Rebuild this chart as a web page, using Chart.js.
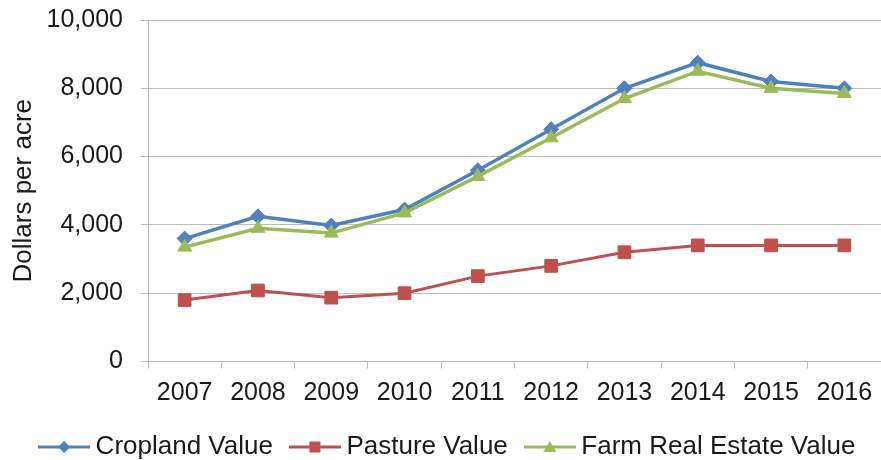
<!DOCTYPE html>
<html>
<head>
<meta charset="utf-8">
<script src="https://cdn.jsdelivr.net/npm/chart.js@4/dist/chart.umd.min.js"></script>
<style>
  html, body { margin: 0; padding: 0; background: #ffffff; }
  #wrap { width: 881px; height: 460px; position: relative; }
</style>
</head>
<body>
<div id="wrap"><canvas id="chart" width="881" height="460"></canvas></div>
<script>
// Land values, dollars per acre
const years = ['2007', '2008', '2009', '2010', '2011', '2012', '2013', '2014', '2015', '2016'];
const croplandValue = [3600, 4250, 3980, 4450, 5600, 6800, 8000, 8750, 8200, 8000];
const pastureValue = [1800, 2080, 1870, 2000, 2500, 2800, 3200, 3400, 3400, 3400];
const farmRealEstateValue = [3350, 3900, 3760, 4350, 5420, 6550, 7700, 8500, 8000, 7850];
const yTicks = [0, 2000, 4000, 6000, 8000, 10000];

const BLUE = '#4F81BD';
const RED = '#C0504D';
const GREEN = '#9BBB59';
const FONT = "'Liberation Sans', Arial, sans-serif";
const TEXT = '#1a1a1a';
const GRID = '#bcbcbc';

// Legend swatch: a short line with the series marker in the middle
function swatch(color, shape) {
  const c = document.createElement('canvas');
  c.width = 52; c.height = 18;
  const g = c.getContext('2d');
  g.strokeStyle = color; g.fillStyle = color; g.lineWidth = 3;
  g.beginPath(); g.moveTo(0, 9); g.lineTo(52, 9); g.stroke();
  g.beginPath();
  if (shape === 'diamond') {
    g.moveTo(26, 3); g.lineTo(32, 9); g.lineTo(26, 15); g.lineTo(20, 9);
  } else if (shape === 'square') {
    g.rect(20.5, 3.5, 11, 11);
  } else {
    g.moveTo(26, 3); g.lineTo(32.5, 14); g.lineTo(19.5, 14);
  }
  g.closePath(); g.fill();
  return c;
}
const swatches = [swatch(BLUE, 'diamond'), swatch(RED, 'square'), swatch(GREEN, 'triangle')];

// Moves the legend row slightly right of the canvas centre
const legendOffset = {
  id: 'legendOffset',
  afterLayout(chart) {
    const l = chart.legend;
    if (l) { l.left += 10; l.right += 10; }
  }
};

new Chart(document.getElementById('chart'), {
  type: 'line',
  plugins: [legendOffset],
  data: {
    labels: years,
    datasets: [
      {
        label: 'Cropland Value', data: croplandValue, order: 3, clip: false,
        borderColor: BLUE, backgroundColor: BLUE, borderWidth: 3.5,
        pointStyle: 'rectRot', pointRadius: 7.5, pointBorderWidth: 1,
        pointBackgroundColor: BLUE, pointBorderColor: BLUE
      },
      {
        label: 'Pasture Value', data: pastureValue, order: 2, clip: false,
        borderColor: RED, backgroundColor: RED, borderWidth: 3,
        pointStyle: 'rect', pointRadius: 9, pointBorderWidth: 1,
        pointBackgroundColor: RED, pointBorderColor: RED
      },
      {
        label: 'Farm Real Estate Value', data: farmRealEstateValue, order: 1, clip: false,
        borderColor: GREEN, backgroundColor: GREEN, borderWidth: 3.5,
        pointStyle: 'triangle', pointRadius: 8, pointBorderWidth: 1,
        pointBackgroundColor: GREEN, pointBorderColor: GREEN
      }
    ]
  },
  options: {
    responsive: false,
    animation: false,
    events: [],
    layout: { autoPadding: false, padding: { top: 20, right: 0, bottom: -10, left: 0 } },
    plugins: {
      tooltip: { enabled: false },
      legend: {
        position: 'bottom',
        labels: {
          usePointStyle: true,
          pointStyleWidth: 37,
          padding: 23.5,
          color: TEXT,
          font: { family: FONT, size: 26 },
          sort: (a, b) => a.datasetIndex - b.datasetIndex,
          generateLabels(chart) {
            const items = Chart.defaults.plugins.legend.labels.generateLabels(chart);
            items.forEach(it => { it.pointStyle = swatches[it.datasetIndex]; });
            return items;
          }
        }
      }
    },
    scales: {
      x: {
        offset: true,
        grid: { offset: true, drawOnChartArea: false, drawTicks: true, tickLength: 7, color: GRID },
        border: { color: GRID, width: 1 },
        ticks: { color: TEXT, font: { family: FONT, size: 25 }, padding: 10, maxRotation: 0, autoSkip: false },
        afterFit(scale) {
          scale.height = 49;
          scale.paddingLeft = 0; scale.paddingRight = 0;
        }
      },
      y: {
        min: 0, max: 10000,
        afterBuildTicks(scale) { scale.ticks = yTicks.map(v => ({ value: v })); },
        grid: { color: GRID, drawTicks: true, tickLength: 7 },
        border: { color: GRID, width: 1 },
        ticks: {
          color: TEXT, font: { family: FONT, size: 25 }, padding: 18,
          callback: v => Number(v).toLocaleString('en-US')
        },
        title: {
          display: true, text: 'Dollars per acre', color: TEXT,
          font: { family: FONT, size: 26 }, padding: { top: 8, bottom: 0 }
        },
        afterFit(scale) {
          scale.width = 148;
          scale.paddingTop = 0; scale.paddingBottom = 0;
        }
      }
    }
  }
});
</script>
</body>
</html>
